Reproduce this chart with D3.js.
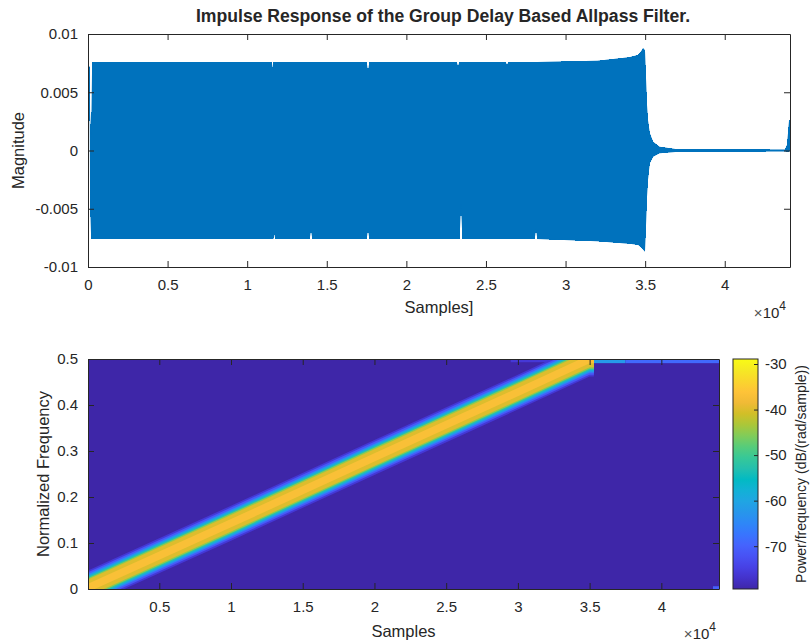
<!DOCTYPE html>
<html>
<head>
<meta charset="utf-8">
<script src="https://cdn.jsdelivr.net/npm/d3@7"></script>
<style>
    body { margin: 0; background: #fff; }
    text { font-family: "Liberation Sans", Arial, Helvetica, sans-serif; fill: #262626; }
</style>
</head>
<body>
<svg id="fig" width="811" height="642"></svg>
<script>
// impulse response, drawn as its envelope (max / min of each screen column)
var envSamples = [0, 40, 110, 130, 200, 260, 11540, 11622, 11650, 11685, 11765, 13930, 14010, 14090,
    17510, 17590, 17670, 23165, 23245, 23325, 23345, 23433, 23520, 26245, 26323, 26400, 28065, 28145, 28225,
    32000, 34000, 34550, 34740, 34870, 34990, 35060, 35117, 35180, 35290, 35500, 35900, 36900,
    43790, 43915, 44040, 44100];
var envHigh = [0.0028, 0.0072, 0.0072, 0.0032, 0.0010, 0.0076, 0.0076, 0.0069, 0.0076, 0.0076, 0.0076, 0.0076, 0.0076, 0.0076,
    0.0076, 0.0067, 0.0076, 0.0076, 0.0072, 0.0076, 0.0076, 0.0076, 0.0076, 0.0076, 0.0073, 0.0076, 0.0076, 0.0076, 0.0076,
    0.0077, 0.0080, 0.0082, 0.0085, 0.0088, 0.0086, 0.0060, 0.0039, 0.0026, 0.0015, 0.00076, 0.00033, 0.00012,
    0.00008, 0.0005, 0.0026, 0.0026];
var envLow = [0.0026, 0.0028, 0.0025, -0.0045, -0.0076, -0.0076, -0.0076, -0.0076, -0.0076, -0.0070, -0.0076, -0.0076, -0.0068, -0.0076,
    -0.0076, -0.0067, -0.0076, -0.0076, -0.0076, -0.0076, -0.0076, -0.0045, -0.0076, -0.0076, -0.0076, -0.0076, -0.0076, -0.0067, -0.0076,
    -0.0078, -0.0080, -0.0081, -0.0083, -0.0085, -0.0087, -0.0062, -0.0040, -0.0025, -0.0011, -0.00053, -0.00024, -0.00012,
    -0.00008, -0.0001, -0.0001, 0];

var sampleTicks = [0, 5000, 10000, 15000, 20000, 25000, 30000, 35000, 40000];
var magTicks = [-0.01, -0.005, 0, 0.005, 0.01];
var specTicks = [5000, 10000, 15000, 20000, 25000, 30000, 35000, 40000];
var freqTicks = [0, 0.1, 0.2, 0.3, 0.4, 0.5];
var dbTicks = [-70, -60, -50, -40, -30];

// spectrogram: centre of the sweep and its contour levels
var ridgeSamples = [0, 10000, 20000, 30000, 35000, 35300];
var ridgeFreq = [0.002, 0.143, 0.286, 0.428, 0.5, 0.5];
var bandDb = [-76, -71, -65, -59, -52, -45, -40, -37];
var bandHalfWidth = [0.038, 0.034, 0.030, 0.027, 0.024, 0.021, 0.018, 0.009];
// small patches near the top edge after the sweep, and corner spot
var patchFrom = [29500, 35000, 37500, 43600];
var patchTo = [33000, 37500, 44020, 44020];
var patchLowF = [0.493, 0.491, 0.491, 0];
var patchHighF = [0.5, 0.5, 0.5, 0.006];
var patchDb = [-76, -62, -69, -70];
var dbRange = [-79.4, -28.9];

var parula = ['#3e26a8', '#4432cb', '#4741e5', '#4852f4', '#4563fd', '#3875fe', '#2e87f7', '#2796eb',
    '#20a5e3', '#12b1d6', '#02bac3', '#24bfae', '#37c897', '#57cc7a', '#81cc59', '#abc739',
    '#d1bf27', '#f0ba36', '#fec338', '#fad62d', '#f5e924', '#f9fb15'];

var svg = d3.select('#fig');
var ink = '#262626';

var topBox = {x0: 88, x1: 790, y0: 34, y1: 267};
var specBox = {x0: 88, x1: 719, y0: 359, y1: 589};
var barBox = {x0: 733, x1: 758, y0: 359, y1: 589};

var xTop = d3.scaleLinear().domain([0, 44100]).range([topBox.x0, topBox.x1]);
var yTop = d3.scaleLinear().domain([-0.01, 0.01]).range([topBox.y1, topBox.y0]);
var xSpec = d3.scaleLinear().domain([30, 44020]).range([specBox.x0, specBox.x1]);
var ySpec = d3.scaleLinear().domain([0, 0.5]).range([specBox.y1, specBox.y0]);
var yBar = d3.scaleLinear().domain(dbRange).range([barBox.y1, barBox.y0]);

var parulaAt = d3.piecewise(d3.interpolateRgb, parula);
function dbColor(db) {
    return parulaAt((db - dbRange[0]) / (dbRange[1] - dbRange[0]));
}

function plain(v) { return String(v); }

function sciFormat(v) {
    return String(+(v / 10000).toFixed(2));
}

function axesBox(box, xs, ys, xt, yt, xfmt, yfmt) {
    var g = svg.append('g');
    var parts = [
        [d3.axisBottom(xs).tickValues(xt).tickFormat(xfmt).tickPadding(12), 'translate(0,' + box.y1 + ')'],
        [d3.axisTop(xs).tickValues(xt).tickFormat(''), 'translate(0,' + box.y0 + ')'],
        [d3.axisLeft(ys).tickValues(yt).tickFormat(yfmt).tickPadding(10), 'translate(' + box.x0 + ',0)'],
        [d3.axisRight(ys).tickValues(yt).tickFormat(''), 'translate(' + box.x1 + ',0)']
    ];
    parts.forEach(function(p) {
        g.append('g')
            .attr('transform', p[1])
            .call(p[0].tickSizeInner(-6).tickSizeOuter(0));
    });
    g.selectAll('.domain').attr('stroke', ink).attr('stroke-width', 1);
    g.selectAll('.tick line').attr('stroke', ink).attr('stroke-width', 1);
    g.selectAll('text')
        .attr('font-family', '"Liberation Sans", Arial, sans-serif')
        .attr('font-size', 15)
        .attr('fill', ink);
    return g;
}

function exponentLabel(x, y) {
    var t = svg.append('text').attr('x', x).attr('y', y).attr('text-anchor', 'end').attr('font-size', 15);
    t.append('tspan').attr('fill', '#555').text('\u00d7');
    t.append('tspan').text('10');
    t.append('tspan').attr('dy', -8).attr('font-size', 12).text('4');
}

// ---------- top: impulse response ----------
svg.append('text')
    .attr('x', (topBox.x0 + topBox.x1) / 2 + 4)
    .attr('y', 22)
    .attr('text-anchor', 'middle')
    .attr('font-size', 17.6)
    .attr('font-weight', 'bold')
    .text('Impulse Response of the Group Delay Based Allpass Filter.');

var envRows = envSamples.map(function(s, i) {
    return {s: s, hi: envHigh[i], lo: envLow[i]};
});
var envArea = d3.area()
    .x(function(d) { return xTop(d.s); })
    .y0(function(d) { return yTop(d.lo); })
    .y1(function(d) { return yTop(d.hi); });

// crisp copy for the solid body, antialiased copy on top keeps the thin tail visible
svg.selectAll('path.env')
    .data(['crispEdges', 'auto'])
    .enter().append('path')
    .attr('class', 'env')
    .attr('d', envArea(envRows))
    .attr('fill', '#0072bd')
    .attr('shape-rendering', function(d) { return d; });

axesBox(topBox, xTop, yTop, sampleTicks, magTicks, sciFormat, plain);

svg.append('text')
    .attr('transform', 'translate(24,' + (topBox.y0 + topBox.y1) / 2 + ') rotate(-90)')
    .attr('text-anchor', 'middle')
    .attr('font-size', 16.5)
    .text('Magnitude');

svg.append('text')
    .attr('x', (topBox.x0 + topBox.x1) / 2)
    .attr('y', 313)
    .attr('text-anchor', 'middle')
    .attr('font-size', 16.5)
    .text('Samples]');

exponentLabel(786, 318);

// ---------- bottom: spectrogram ----------
svg.append('clipPath').attr('id', 'specClip')
    .append('rect')
    .attr('x', specBox.x0).attr('y', specBox.y0)
    .attr('width', specBox.x1 - specBox.x0).attr('height', specBox.y1 - specBox.y0);

var spec = svg.append('g').attr('clip-path', 'url(#specClip)');

spec.append('rect')
    .attr('x', specBox.x0).attr('y', specBox.y0)
    .attr('width', specBox.x1 - specBox.x0).attr('height', specBox.y1 - specBox.y0)
    .attr('fill', dbColor(dbRange[0]));

spec.selectAll('rect.patch')
    .data(patchDb)
    .enter().append('rect')
    .attr('class', 'patch')
    .attr('x', function(d, i) { return xSpec(patchFrom[i]); })
    .attr('width', function(d, i) { return xSpec(patchTo[i]) - xSpec(patchFrom[i]); })
    .attr('y', function(d, i) { return ySpec(patchHighF[i]); })
    .attr('height', function(d, i) { return ySpec(patchLowF[i]) - ySpec(patchHighF[i]); })
    .attr('fill', function(d) { return dbColor(d); });

var bandLine = d3.line();
spec.selectAll('path.band')
    .data(bandDb)
    .enter().append('path')
    .attr('class', 'band')
    .attr('d', function(d, i) {
        var hw = bandHalfWidth[i];
        var upper = ridgeSamples.map(function(s, k) { return [xSpec(s), ySpec(ridgeFreq[k] + hw)]; });
        var lower = ridgeSamples.map(function(s, k) { return [xSpec(s), ySpec(ridgeFreq[k] - hw)]; }).reverse();
        return bandLine(upper.concat(lower)) + 'Z';
    })
    .attr('fill', function(d) { return dbColor(d); });

axesBox(specBox, xSpec, ySpec, specTicks, freqTicks, sciFormat, plain);

svg.append('text')
    .attr('transform', 'translate(49,' + (specBox.y0 + specBox.y1) / 2 + ') rotate(-90)')
    .attr('text-anchor', 'middle')
    .attr('font-size', 16.5)
    .text('Normalized Frequency');

svg.append('text')
    .attr('x', (specBox.x0 + specBox.x1) / 2)
    .attr('y', 637)
    .attr('text-anchor', 'middle')
    .attr('font-size', 16.5)
    .text('Samples');

exponentLabel(716, 639);

// ---------- colorbar ----------
var grad = svg.append('defs').append('linearGradient')
    .attr('id', 'parulaGrad')
    .attr('x1', 0).attr('y1', 1).attr('x2', 0).attr('y2', 0);
grad.selectAll('stop')
    .data(parula)
    .enter().append('stop')
    .attr('offset', function(d, i) { return i / (parula.length - 1); })
    .attr('stop-color', function(d) { return d; });

svg.append('rect')
    .attr('x', barBox.x0).attr('y', barBox.y0)
    .attr('width', barBox.x1 - barBox.x0).attr('height', barBox.y1 - barBox.y0)
    .attr('fill', 'url(#parulaGrad)')
    .attr('stroke', ink)
    .attr('stroke-width', 1);

var barAxis = svg.append('g')
    .attr('transform', 'translate(' + barBox.x1 + ',0)')
    .call(d3.axisRight(yBar).tickValues(dbTicks).tickFormat(plain)
        .tickSizeInner(-4).tickSizeOuter(0).tickPadding(7));
barAxis.select('.domain').remove();
barAxis.selectAll('.tick line').attr('stroke', ink);
barAxis.selectAll('text')
    .attr('font-family', '"Liberation Sans", Arial, sans-serif')
    .attr('font-size', 15)
    .attr('fill', ink);

svg.append('text')
    .attr('transform', 'translate(802,' + (barBox.y0 + barBox.y1) / 2 + ') rotate(-90)')
    .attr('text-anchor', 'middle')
    .attr('dominant-baseline', 'middle')
    .attr('font-size', 14)
    .text('Power/frequency (dB/(rad/sample))');
</script>
</body>
</html>
